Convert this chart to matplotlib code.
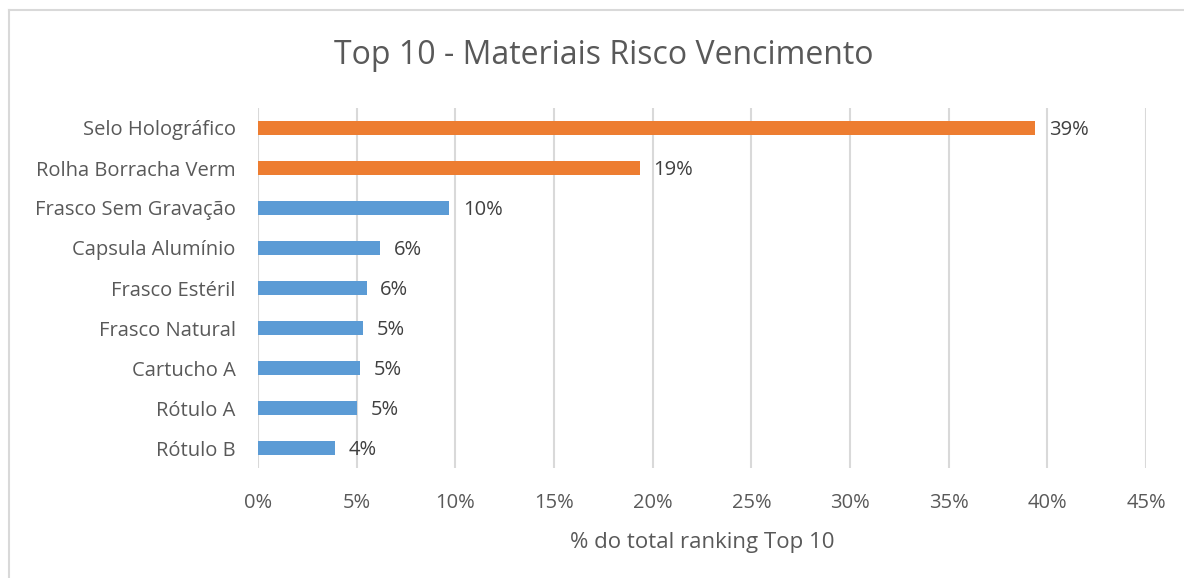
import matplotlib.pyplot as plt
from matplotlib.lines import Line2D
from matplotlib.ticker import FuncFormatter

materiais = ['Selo Holográfico', 'Rolha Borracha Verm', 'Frasco Sem Gravação',
             'Capsula Alumínio', 'Frasco Estéril', 'Frasco Natural',
             'Cartucho A', 'Rótulo A', 'Rótulo B']
percentual = [39.4, 19.35, 9.7, 6.2, 5.5, 5.3, 5.15, 5.0, 3.9]
rotulos = ['39%', '19%', '10%', '6%', '6%', '5%', '5%', '5%', '4%']
cores = ['#ED7D31', '#ED7D31'] + ['#5B9BD5'] * 7

plt.rcParams['font.family'] = ['Open Sans', 'DejaVu Sans']
cinza = '#595959'

fig = plt.figure(figsize=(11.84, 5.78), dpi=100)
ax = fig.add_axes([258/1184, 1 - 468/578, (1146 - 258)/1184, 360/578])

y = list(range(len(materiais)))
ax.barh(y, percentual, height=0.36, color=cores, zorder=3)
for yi, v, t in zip(y, percentual, rotulos):
    ax.text(v + 0.7, yi + 0.05, t, va='center', ha='left', fontsize=14.5, color='#404040')

ax.set_xlim(0, 45)
ax.set_ylim(len(materiais) - 0.5, -0.5)
ax.set_xticks(range(0, 50, 5))
ax.xaxis.set_major_formatter(FuncFormatter(lambda v, p: f'{v:.0f}%'))
ax.set_yticks(y)
ax.set_yticklabels(materiais)
ax.tick_params(axis='both', length=0, labelsize=14.5, colors=cinza)
ax.tick_params(axis='x', pad=18)
ax.tick_params(axis='y', pad=16)
ax.grid(axis='x', color='#d9d9d9', linewidth=1.5, zorder=0)
for s in ax.spines.values():
    s.set_visible(False)

ax.set_xlabel('% do total ranking Top 10', fontsize=16, color=cinza, labelpad=14)
fig.text(604/1184, 1 - 55/578, 'Top 10 - Materiais Risco Vencimento',
         ha='center', va='center', fontsize=23, color=cinza)

# moldura do gráfico
fig.add_artist(Line2D([9/1184, 9/1184], [0, 1 - 10/578], transform=fig.transFigure,
                      color='#d9d9d9', linewidth=1.5))
fig.add_artist(Line2D([9/1184, 1], [1 - 10/578, 1 - 10/578], transform=fig.transFigure,
                      color='#d9d9d9', linewidth=1.5))

fig.savefig('out.png', dpi=100)
